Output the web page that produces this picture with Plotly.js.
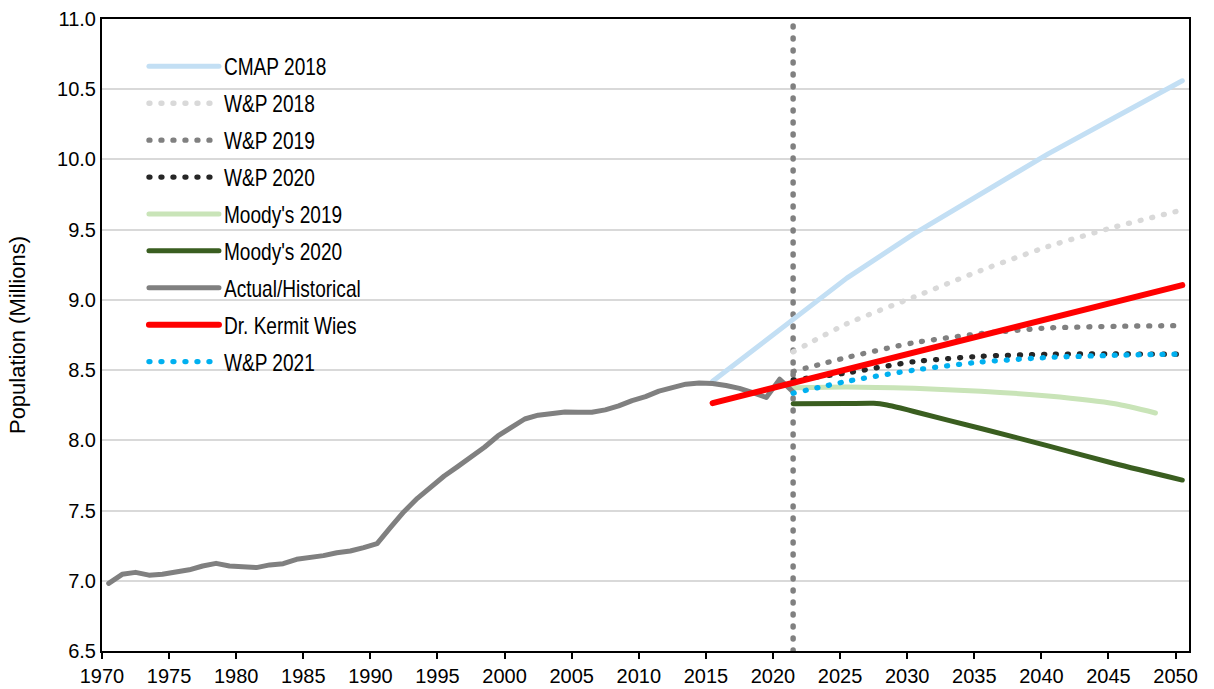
<!DOCTYPE html>
<html>
<head>
<meta charset="utf-8">
<script src="https://cdn.plot.ly/plotly-3.0.1.min.js"></script>
<style>
  html, body { margin: 0; padding: 0; background: #ffffff; }
  #chart { width: 1214px; height: 689px; }
  .scatterlayer .js-line, .legend .js-line { stroke-linecap: round; stroke-linejoin: round; }
  .legendtext { transform-box: fill-box; transform-origin: 0 50%; transform: scaleX(0.83); }
</style>
</head>
<body>
<div id="chart"></div>
<script>
// ---------- data ----------
const histYears = [1970,1971,1972,1973,1974,1975,1976,1977,1978,1979,1980,1981,1982,1983,1984,1985,1986,1987,1988,1989,
  1990,1991,1992,1993,1994,1995,1996,1997,1998,1999,2000,2001,2002,2003,2004,2005,2006,2007,2008,2009,
  2010,2011,2012,2013,2014,2015,2016,2017,2018,2019,2020,2021];
const histValues = [6.982,7.046,7.060,7.040,7.046,7.058,7.078,7.105,7.124,7.105,7.103,7.094,7.113,7.122,7.153,7.165,7.179,7.200,7.212,7.236,
  7.264,7.380,7.492,7.587,7.670,7.746,7.813,7.877,7.951,8.031,8.093,8.152,8.179,8.193,8.202,8.200,8.200,8.217,8.245,8.283,
  8.311,8.350,8.378,8.400,8.409,8.405,8.390,8.370,8.340,8.305,8.435,8.345];

const cmapYears  = [2015, 2020, 2025, 2030, 2035, 2040, 2045, 2050];
const cmapValues = [8.420, 8.785, 9.155, 9.470, 9.760, 10.040, 10.300, 10.560];

const wp2018Years  = [2021, 2025, 2030, 2035, 2040, 2045, 2050];
const wp2018Values = [8.630, 8.830, 9.020, 9.210, 9.380, 9.520, 9.640];

const wp2019Years  = [2021, 2025, 2030, 2035, 2040, 2045, 2050];
const wp2019Values = [8.490, 8.590, 8.695, 8.760, 8.800, 8.812, 8.817];

const wp2020Years  = [2021, 2025, 2030, 2035, 2040, 2045, 2050];
const wp2020Values = [8.430, 8.480, 8.560, 8.598, 8.613, 8.615, 8.613];

const moodys2019Years  = [2021, 2025, 2030, 2035, 2040, 2045, 2048];
const moodys2019Values = [8.375, 8.380, 8.370, 8.350, 8.315, 8.260, 8.195];

const moodys2020Years  = [2021, 2025, 2027, 2028, 2029, 2030, 2035, 2040, 2045, 2050];
const moodys2020Values = [8.260, 8.262, 8.264, 8.252, 8.230, 8.205, 8.084, 7.961, 7.833, 7.717];

const wiesYears  = [2015, 2050];
const wiesValues = [8.265, 9.105];

const wp2021Years  = [2021, 2025, 2030, 2035, 2040, 2045, 2050];
const wp2021Values = [8.335, 8.420, 8.500, 8.558, 8.590, 8.606, 8.615];

const forecastStartYear = 2021;
const yAxisRange = [6.5, 11.0];
const xTickLabels = ['1970','1975','1980','1985','1990','1995','2000','2005','2010','2015','2020','2025','2030','2035','2040','2045','2050'];

// ---------- styles ----------
const DOT = '1px,11px';
function series(name, x, y, color, width, dash, shape) {
  return {
    type: 'scatter', mode: 'lines', name: name, legendgroup: name,
    x: x, y: y,
    line: { color: color, width: width, dash: dash || 'solid', shape: shape || 'spline', smoothing: 0.6 },
    hoverinfo: 'x+y+name'
  };
}

const traces = [
  {
    type: 'scatter', mode: 'lines', showlegend: false, hoverinfo: 'skip',
    x: [forecastStartYear, forecastStartYear], y: yAxisRange,
    line: { color: '#808080', width: 5.5, dash: '1px,11px' }
  },
  series('CMAP 2018', cmapYears, cmapValues, '#c3dff4', 5, 'solid', 'linear'),
  series('W&P 2018', wp2018Years, wp2018Values, '#d9d9d9', 5.3, DOT),
  series('W&P 2019', wp2019Years, wp2019Values, '#808080', 5.3, DOT),
  series('W&P 2020', wp2020Years, wp2020Values, '#262626', 5.3, DOT),
  series("Moody's 2019", moodys2019Years, moodys2019Values, '#c9e4b8', 5),
  series("Moody's 2020", moodys2020Years, moodys2020Values, '#3a5e20', 5),
  series('Actual/Historical', histYears, histValues, '#808080', 5, 'solid', 'linear'),
  series('Dr. Kermit Wies', wiesYears, wiesValues, '#ff0000', 6, 'solid', 'linear'),
  series('W&P 2021', wp2021Years, wp2021Values, '#00b0f0', 5.3, DOT)
];

const layout = {
  width: 1214, height: 689,
  margin: { l: 102, r: 25, t: 19, b: 38, pad: 0 },
  paper_bgcolor: '#ffffff', plot_bgcolor: '#ffffff',
  font: { family: '"Liberation Sans", Arial, sans-serif', size: 20, color: '#000000' },
  showlegend: true,
  legend: {
    x: 0.0386, y: 0.959, xanchor: 'left', yanchor: 'top',
    bgcolor: 'rgba(0,0,0,0)', borderwidth: 0,
    font: { family: '"Liberation Sans", Arial, sans-serif', size: 23, color: '#000000' },
    itemwidth: 70, tracegroupgap: 4, traceorder: 'grouped',
    itemclick: false, itemdoubleclick: false
  },
  xaxis: {
    range: [1969.5, 2050.5],
    tickmode: 'array',
    tickvals: xTickLabels.map(t => Number(t) - 0.5),
    ticktext: xTickLabels,
    ticks: 'outside', ticklen: 6, tickwidth: 1.5, tickcolor: '#000000',
    showline: true, linecolor: '#000000', linewidth: 2, mirror: true,
    showgrid: false, zeroline: false,
    tickfont: { size: 20 }
  },
  yaxis: {
    range: yAxisRange,
    dtick: 0.5, tick0: 6.5, tickformat: '.1f',
    ticks: '', ticklabelstandoff: 0,
    showline: true, linecolor: '#000000', linewidth: 2, mirror: true,
    showgrid: true, gridcolor: '#d9d9d9', gridwidth: 1.5,
    zeroline: false,
    tickfont: { size: 20 },
    title: { text: 'Population (Millions)', font: { family: '"Liberation Sans", Arial, sans-serif', size: 22 }, standoff: 25 }
  }
};

Plotly.newPlot('chart', traces, layout, { displayModeBar: false });
</script>
</body>
</html>
